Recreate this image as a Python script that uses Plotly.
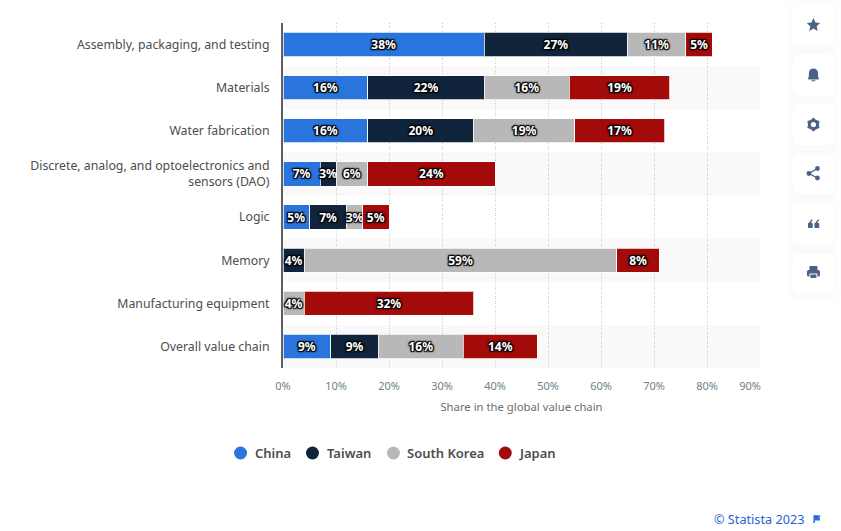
import plotly.graph_objects as go

categories = ["Assembly, packaging, and testing", "Materials", "Water fabrication",
              "Discrete, analog, and optoelectronics and<br>sensors (DAO)", "Logic", "Memory",
              "Manufacturing equipment", "Overall value chain"]
china = [38, 16, 16, 7, 5, None, None, 9]
taiwan = [27, 22, 20, 3, 7, 4, None, 9]
south_korea = [11, 16, 19, 6, 3, 59, 4, 16]
japan = [5, 19, 17, 24, 5, 8, 32, 14]
series = [("China", china, "#2a75dd"), ("Taiwan", taiwan, "#10253c"),
          ("South Korea", south_korea, "#b8b8b8"), ("Japan", japan, "#a30a0a")]
tick_values = [0, 10, 20, 30, 40, 50, 60, 70, 80, 90]
tick_labels = ["0%", "10%", "20%", "30%", "40%", "50%", "60%", "70%", "80%", "90%" + "\u00a0" * 7]
shaded_bands = [1, 3, 5, 7]

W, H = 841, 531
L, R, T, B = 282.5, 81, 23, 163
PW, PH = W - L - R, H - T - B
FONT = "Noto Sans, sans-serif"
ICON = "#4a6385"
SH = ("-1px -1px 1px #000,1px -1px 1px #000,-1px 1px 1px #000,1px 1px 1px #000,"
      "0 0 3px #000,0 0 2px #000")
LEGEND_CIRCLES = [240, 312, 393, 505]
LEGEND_TEXTS = [254, 327, 407, 519]


def px(x, y):
    return (x - L) / PW, 1 - (y - T) / PH


def path(points, close=True):
    parts = []
    for i, (x, y) in enumerate(points):
        a, b = px(x, y)
        parts.append(("M" if i == 0 else "L") + f"{a:.5f},{b:.5f}")
    return " ".join(parts) + (" Z" if close else "")


def rrect(x0, y0, x1, y1, r):
    a0, b0 = px(x0, y0)
    a1, b1 = px(x1, y1)
    rx, ry = r / PW, r / PH
    return (f"M{a0+rx:.5f},{b0:.5f} L{a1-rx:.5f},{b0:.5f} Q{a1:.5f},{b0:.5f} {a1:.5f},{b0-ry:.5f} "
            f"L{a1:.5f},{b1+ry:.5f} Q{a1:.5f},{b1:.5f} {a1-rx:.5f},{b1:.5f} L{a0+rx:.5f},{b1:.5f} "
            f"Q{a0:.5f},{b1:.5f} {a0:.5f},{b1+ry:.5f} L{a0:.5f},{b0-ry:.5f} Q{a0:.5f},{b0:.5f} {a0+rx:.5f},{b0:.5f} Z")


def pshape(d, fill=ICON, **kw):
    return dict(type="path", path=d, xref="paper", yref="paper", fillcolor=fill,
                line=dict(width=0), layer="above", **kw)


def circ(cx, cy, r, fill=ICON):
    a0, b0 = px(cx - r, cy - r)
    a1, b1 = px(cx + r, cy + r)
    return dict(type="circle", xref="paper", yref="paper", x0=a0, x1=a1, y0=b0, y1=b1,
                fillcolor=fill, line=dict(width=0), layer="above")


fig = go.Figure()
for name, vals, color in series:
    fig.add_trace(go.Bar(
        name=name, y=categories, x=vals, orientation="h", showlegend=False,
        marker=dict(color=color, line=dict(color="rgba(255,255,255,0.75)", width=1)),
        text=[f"{v}%" if v is not None else None for v in vals],
        textposition="inside", insidetextanchor="middle", textangle=0, constraintext="none",
        textfont=dict(family=FONT, size=12, color="#fff", weight=700, shadow=SH),
        hoverinfo="x+y+name"))

shapes = []
for i in shaded_bands:
    shapes.append(dict(type="rect", xref="paper", yref="y", x0=0, x1=1, y0=i - 0.5, y1=i + 0.5,
                       fillcolor="#f9f9f9", line=dict(width=0), layer="below"))

# side buttons
for top in [4, 54, 104, 153, 203, 253]:
    for grow, col in [(9, "rgba(230,234,242,0.05)"), (6, "rgba(230,234,242,0.06)"), (3, "rgba(230,234,242,0.08)")]:
        shapes.append(pshape(rrect(793 - grow, top - grow + 1, 834 + grow, top + 41 + grow + 1, 6 + grow), fill=col))
    shapes.append(pshape(rrect(793, top, 834, top + 41, 6), fill="#ffffff"))

# star
shapes.append(pshape(path([(813.5, 18), (815.5, 22.4), (820.2, 23), (816.7, 26.2), (817.7, 31),
                           (813.5, 28.6), (809.3, 31), (810.3, 26.2), (806.8, 23), (811.5, 22.4)])))
# bell
shapes.append(circ(813.5, 73, 4.6))
shapes.append(pshape(rrect(808.9, 73, 818.1, 79, 0.8)))
shapes.append(pshape(rrect(808.2, 77, 818.8, 79.5, 0.8)))
shapes.append(pshape(rrect(811.5, 80.2, 815.5, 81.2, 0.4)))
# gear
shapes.append(circ(813.5, 124.5, 5.6))
for dx, dy in [(0, -5.2), (0, 5.2), (-4.6, -2.6), (4.6, -2.6), (-4.6, 2.6), (4.6, 2.6)]:
    shapes.append(circ(813.5 + dx, 124.5 + dy, 1.5))
shapes.append(circ(813.5, 124.5, 2.6, fill="#ffffff"))
# share
shapes.append(circ(817.5, 168.5, 2.4))
shapes.append(circ(809, 173.5, 2.4))
shapes.append(circ(817.5, 178, 2.4))
shapes.append(dict(type="path", path=path([(817.5, 168.5), (809, 173.5), (817.5, 178)], close=False),
                   xref="paper", yref="paper", line=dict(color=ICON, width=1.4), layer="above"))
# quotes
for x0 in [808, 814.5]:
    shapes.append(pshape(rrect(x0, 223, x0 + 4.8, 228, 0.8)))
    shapes.append(pshape(path([(x0, 224), (x0 + 3.5, 219.5), (x0 + 4.8, 219.5), (x0 + 2.5, 224)])))
# printer
shapes.append(pshape(rrect(809.5, 266, 817.5, 271, 0.8)))
shapes.append(pshape(rrect(807, 270, 820, 276.5, 1.6)))
shapes.append(pshape(rrect(809.5, 273.5, 817.5, 279, 0.6), fill="#ffffff"))
shapes.append(pshape(rrect(810.5, 274.5, 816.5, 278, 0.2)))
# footer flag
shapes.append(pshape(path([(813.5, 515), (820.5, 515.5), (819.5, 518), (820.5, 520.5), (815, 520.5), (815, 523), (813.5, 523)]), fill="#2a6fe0"))

annotations = []
# legend
for (name, _, color), cx, tx in zip(series, LEGEND_CIRCLES, LEGEND_TEXTS):
    shapes.append(circ(cx, 453, 6.5, fill=color))
    ax, ay = px(tx, 453)
    annotations.append(dict(text=name, xref="paper", yref="paper", x=ax, y=ay, xanchor="left",
                            yanchor="middle", showarrow=False, xshift=-2,
                            font=dict(size=13, color="#4d4d4d", family=FONT, weight=600)))

fx, fy = px(806.5, 519)
annotations.append(dict(text="© Statista 2023", xref="paper", yref="paper", x=fx, y=fy, xanchor="right",
                        yanchor="middle", showarrow=False, font=dict(size=12.7, color="#2a62d8", family=FONT)))

fig.update_layout(
    width=W, height=H, barmode="stack", bargap=0.44, showlegend=False,
    margin=dict(l=L, r=R, t=T, b=B, autoexpand=False),
    paper_bgcolor="#ffffff", plot_bgcolor="rgba(0,0,0,0)",
    font=dict(family=FONT, size=12, color="#555"),
    shapes=shapes, annotations=annotations,
    xaxis=dict(range=[0, 90], tickvals=tick_values, ticktext=tick_labels,
               showgrid=True, gridcolor="#c8c8c8", griddash="1px,1.5px", gridwidth=1, zeroline=False,
               ticks="", ticklabelstandoff=10, tickfont=dict(size=11, color="#6e7f87"),
               title=dict(text="Share in the global value chain", standoff=11,
                          font=dict(size=11.3, color="#6e6e6e"))),
    yaxis=dict(categoryorder="array", categoryarray=categories, autorange="reversed",
               showline=True, linecolor="#5f5f5f", linewidth=2, ticks="", ticklabelstandoff=9,
               tickfont=dict(size=12.3, color="#4d4d4d"), showgrid=False, zeroline=False),
)
fig.write_html("out.html", config=dict(displayModeBar=False),
               post_script="document.body.style.margin='0';")
